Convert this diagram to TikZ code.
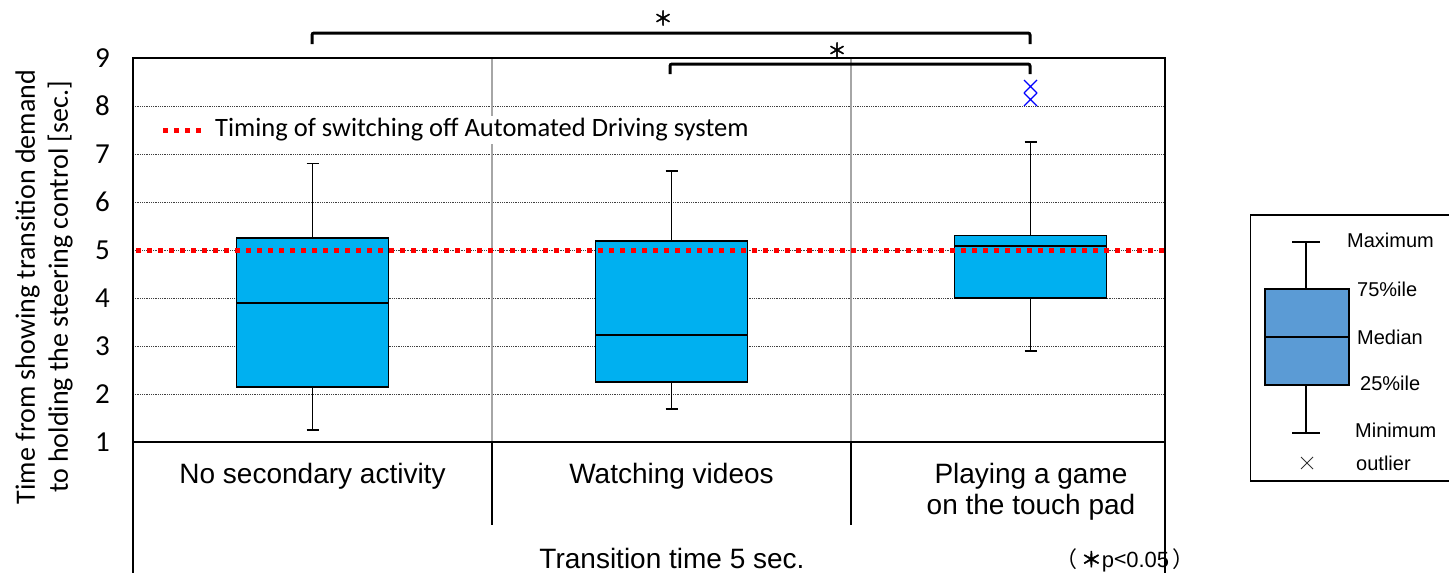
\documentclass[tikz,border=0pt]{standalone}
\usepackage{fontspec}
\setmainfont{Liberation Sans}
\newfontfamily\calib{Carlito}
\newfontfamily\cjkf{Noto Sans CJK JP}
\newfontfamily\cjkb[FakeBold=2.5]{Noto Sans CJK JP}
\definecolor{boxc}{HTML}{00B0F0}
\definecolor{legc}{HTML}{5B9BD5}
\definecolor{redc}{HTML}{FF0000}
\definecolor{outc}{HTML}{0000FF}
\definecolor{sepc}{HTML}{A6A6A6}
\newcommand\mybox[6]{%
  \draw[wh] (#1,#2) -- (#1,#3);
  \draw[wh] (#1-6,#2) -- (#1+6,#2);
  \draw[wh] (#1,#5) -- (#1,#6);
  \draw[wh] (#1-6,#6) -- (#1+6,#6);
  \draw[bx] (#1-76,#3) rectangle (#1+76,#5);
  \draw[line width=1.6pt] (#1-76,#4) -- (#1+76,#4);
}
\begin{document}
\begin{tikzpicture}[x=1pt,y=-1pt,
  bx/.style={draw=black,line width=1.7pt,fill=boxc},
  wh/.style={line width=1.6pt,black},
  gridl/.style={densely dotted,line width=0.8pt,black!75},
  sepl/.style={line width=1.5pt,sepc},
  frame/.style={line width=2pt,black},
  catsep/.style={line width=1.5pt,black},
  reddot/.style={line width=5pt,redc,dash pattern=on 5pt off 6pt},
  brk/.style={line width=3pt,black,rounded corners=2pt},
  tick/.style={font=\calib\fontsize{29}{32}\selectfont,anchor=east,inner sep=0pt},
  cat/.style={font=\fontsize{28}{31}\selectfont,align=center,inner sep=0pt},
  star/.style={font=\cjkb\fontsize{19}{19}\selectfont,inner sep=0pt},
  legt/.style={font=\fontsize{20}{22}\selectfont,anchor=west,inner sep=0pt},
  outx/.style={line width=1.3pt,outc}]
\useasboundingbox (0,0) rectangle (1449,573);
% grid lines
\foreach \v in {2,...,8} \draw[gridl] (133,{58+(9-\v)*48}) -- (1165,{58+(9-\v)*48});
% gray separators
\draw[sepl] (492,58) -- (492,442);
\draw[sepl] (851,58) -- (851,442);
% legend inside plot
\node[anchor=west,fill=white,inner sep=3pt,font=\calib\fontsize{26.5}{30}\selectfont] (timing) at (212,130) {Timing of switching off Automated Driving system};
\draw[reddot] (163,130) -- (206,130);
% boxes
\mybox{312.5}{163.6}{238}{302.8}{386.8}{430}
\mybox{671.5}{171}{241}{335}{382}{409}
\mybox{1030.5}{142}{235.6}{246.2}{298}{350.8}
% outliers
\draw[outx] (1024,80) -- (1037,93) (1037,80) -- (1024,93);
\draw[outx] (1024,93) -- (1037,106) (1037,93) -- (1024,106);
% red dotted line
\draw[reddot] (136,250) -- (1165,250);
% frame
\draw[frame] (133,573) -- (133,58) -- (1165,58) -- (1165,573);
\draw[frame] (133,442) -- (1165,442);
\draw[catsep] (492,442) -- (492,525);
\draw[catsep] (851,442) -- (851,525);
% ticks
\foreach \v in {1,...,9} \node[tick] (t\v) at (110,{58+(9-\v)*48}) {\v};
% axis title
\node[rotate=90,align=center,font=\calib\fontsize{28}{33}\selectfont,inner sep=0pt] (ytitle) at (44,287) {Time from showing transition demand\\to holding the steering control [sec.]};
% categories
\node[cat] (c1) at (312.5,476) {No secondary activity};
\node[cat] (c2) at (671.5,476) {Watching videos};
\node[cat] (c3) at (1031,492) {Playing a game\\on the touch pad};
\node[cat] (ttl) at (672,558) {Transition time 5 sec.};
\node[inner sep=0pt,font=\fontsize{22}{24}\selectfont] (pval) at (1125,560) {{\cjkf （}\,{\cjkb\fontsize{21}{22}\selectfont ＊}p{\cjkf <}0.05\,{\cjkf ）}};
% brackets
\draw[brk] (312,44) -- (312,33) -- (1030,33) -- (1030,44);
\draw[brk] (670,74) -- (670,64) -- (1030,64) -- (1030,74);
\node[star] (s1) at (663,18) {＊};
\node[star] (s2) at (837,50) {＊};
% right legend
\draw[line width=1.5pt] (1470,215) -- (1250.5,215) -- (1250.5,481) -- (1470,481);
\draw[wh] (1306,242) -- (1306,289);
\draw[wh] (1292,242) -- (1320,242);
\draw[wh] (1306,385) -- (1306,433);
\draw[wh] (1292,433) -- (1320,433);
\draw[line width=1.5pt,fill=legc] (1265,289) rectangle (1349,385);
\draw[line width=1.5pt] (1265,337) -- (1349,337);
\draw[line width=0.8pt,black!80] (1301,457) -- (1313,469) (1313,457) -- (1301,469);
\node[legt] (lmax) at (1347,240) {Maximum};
\node[legt] (l75) at (1357,289) {75\%ile};
\node[legt] (lmed) at (1357,337) {Median};
\node[legt] (l25) at (1360,383) {25\%ile};
\node[legt] (lmin) at (1355,430) {Minimum};
\node[legt] (lout) at (1356,463) {outlier};
\end{tikzpicture}
\end{document}
